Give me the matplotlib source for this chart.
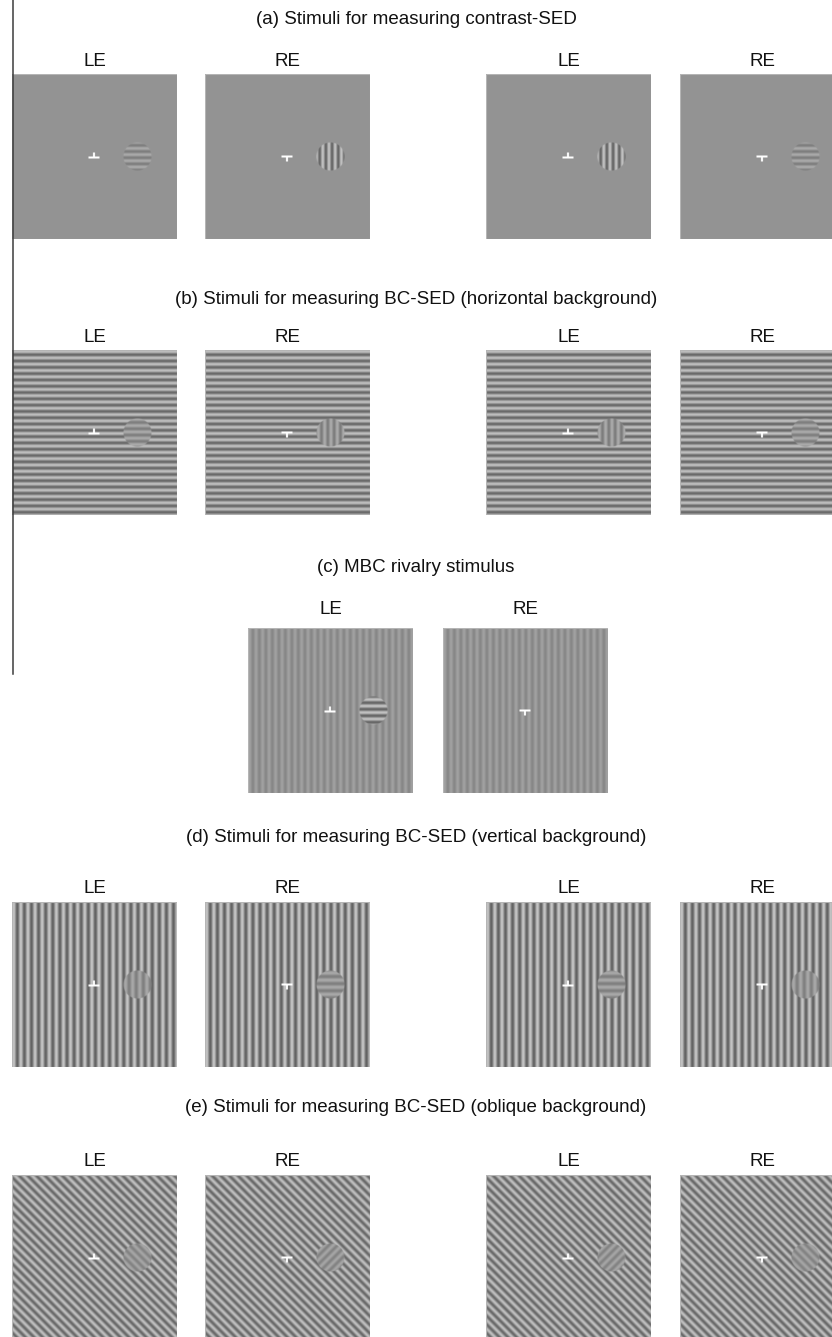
import numpy as np
import matplotlib
matplotlib.use("Agg")
import matplotlib.pyplot as plt
from matplotlib.lines import Line2D
from matplotlib.patches import Rectangle

plt.rcParams['font.family'] = ['Liberation Sans', 'DejaVu Sans']

# ---------------- data ----------------
titles = [
    "(a) Stimuli for measuring contrast-SED",
    "(b) Stimuli for measuring BC-SED (horizontal background)",
    "(c) MBC rivalry stimulus",
    "(d) Stimuli for measuring BC-SED (vertical background)",
    "(e) Stimuli for measuring BC-SED (oblique background)",
]
row_eyes = [
    ["LE", "RE", "LE", "RE"],
    ["LE", "RE", "LE", "RE"],
    ["LE", "RE"],
    ["LE", "RE", "LE", "RE"],
    ["LE", "RE", "LE", "RE"],
]
bg_stripes = ["none", "horizontal", "vertical", "vertical", "oblique_down"]
bg_contrast = [0.0, 0.30, 0.09, 0.34, 0.30]
patch_stripes = [
    ["horizontal", "vertical", "vertical", "horizontal"],
    ["horizontal", "vertical", "vertical", "horizontal"],
    ["horizontal", None],
    ["vertical", "horizontal", "horizontal", "vertical"],
    ["oblique_down", "oblique_up", "oblique_up", "oblique_down"],
]
patch_contrast = [
    [0.15, 0.32, 0.32, 0.15],
    [0.15, 0.16, 0.16, 0.15],
    [0.32, 0.0],
    [0.14, 0.14, 0.14, 0.14],
    [0.12, 0.12, 0.12, 0.12],
]

# ---------------- layout (figure pixels, top-left origin) ----------------
W, H, DPI = 832, 1337, 100
IMG = 165
row_top = [74, 350, 628, 902, 1175]
cols4 = [12, 205, 486, 680]
cols2 = [248, 443]
title_y = [19, 299, 568, 838, 1108]
label_gap = [8, 8, 14, 9, 9]
row_period = [6.2, 6.3, 6.5, 7.1, 6.1]

MEAN = 0.58
S = 2
N = IMG * S

DIRS = {
    "horizontal": (0.0, 1.0),
    "vertical": (1.0, 0.0),
    "oblique_down": (1 / np.sqrt(2), -1 / np.sqrt(2)),
    "oblique_up": (1 / np.sqrt(2), 1 / np.sqrt(2)),
}

yy, xx = np.mgrid[0:N, 0:N]
U = (xx + 0.5) / S
V = (yy + 0.5) / S


def grating(stripes, contrast, period, phase=0.0):
    if stripes is None or stripes == "none" or contrast == 0:
        return np.full((N, N), MEAN)
    dx, dy = DIRS[stripes]
    return MEAN * (1 + contrast * np.sin(2 * np.pi * (U * dx + V * dy) / period + phase))


def make_image(r, i):
    per = row_period[r]
    img = grating(bg_stripes[r], bg_contrast[r], per)
    cx, cy = IMG / 2, IMG / 2
    ps = patch_stripes[r][i]
    if ps is not None:
        px, py, rad = cx + 43, cy, 14.0
        dist = np.sqrt((U - px) ** 2 + (V - py) ** 2)
        a = np.clip(rad - dist + 0.5, 0, 1)
        patch = grating(ps, patch_contrast[r][i], per, phase=np.pi / 2)
        img = img * (1 - a) + patch * a
    # fixation marker
    eye = row_eyes[r][i]

    def fill(x0, x1, y0, y1):
        m = (U >= x0) & (U < x1) & (V >= y0) & (V < y1)
        img[m] = 1.0
    if eye == "LE":
        fill(cx - 6, cx + 5, cy, cy + 2)
        fill(cx - 1.5, cx + 0.5, cy - 4, cy)
    else:
        fill(cx - 6, cx + 5, cy - 1, cy + 1)
        fill(cx - 1.5, cx + 0.5, cy + 1, cy + 5)
    return img


fig = plt.figure(figsize=(W / DPI, H / DPI), dpi=DPI)
fig.patch.set_facecolor("white")

for r in range(5):
    lefts = cols4 if len(row_eyes[r]) == 4 else cols2
    top = row_top[r]
    fig.text(0.5, 1 - title_y[r] / H, titles[r], ha="center", va="center",
             fontsize=13.5, color="#111111")
    for i, left in enumerate(lefts):
        ax = fig.add_axes([left / W, 1 - (top + IMG) / H, IMG / W, IMG / H])
        ax.imshow(make_image(r, i), cmap="gray", vmin=0, vmax=1,
                  extent=(0, IMG, IMG, 0), interpolation="antialiased")
        ax.set_xlim(0, IMG)
        ax.set_ylim(IMG, 0)
        ax.axis("off")
        ax.add_patch(Rectangle((0, 0), IMG, IMG, fill=False, edgecolor="#b5b5b5",
                               linewidth=0.8))
        fig.text((left + IMG / 2) / W, 1 - (top - label_gap[r]) / H, row_eyes[r][i],
                 ha="center", va="baseline", fontsize=13.5, color="#111111")

# scan artefact: vertical line at left
fig.add_artist(Line2D([12.5 / W, 12.5 / W], [1.0, 1 - 674 / H], transform=fig.transFigure,
                      color="#3c3c3c", linewidth=1.1, zorder=10))

fig.savefig("out.png", dpi=DPI)
